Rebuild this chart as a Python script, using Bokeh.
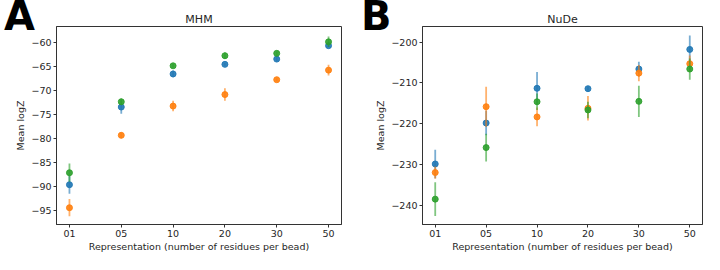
from bokeh.plotting import figure
from bokeh.layouts import row
from bokeh.models import Range1d, FixedTicker, ColumnDataSource, Div
from bokeh.embed import file_html
from bokeh.resources import INLINE

# ---------------- data ----------------
categories = ["01", "05", "10", "20", "30", "50"]
series_colors = ["#1f77b4", "#ff7f0e", "#2ca02c"]

# Panel A: MHM
mhm_blue = [-89.6, -73.4, -66.5, -64.5, -63.4, -60.6]
mhm_blue_err = [1.9, 1.4, 0.7, 0.3, 0.5, 0.3]
mhm_orange = [-94.4, -79.3, -73.2, -70.8, -67.7, -65.7]
mhm_orange_err = [1.8, 0.6, 1.1, 1.3, 0.3, 1.1]
mhm_green = [-87.1, -72.3, -64.8, -62.7, -62.2, -59.8]
mhm_green_err = [1.9, 0.7, 0.4, 0.7, 0.4, 1.1]

# Panel B: NuDe
nude_blue = [-229.8, -219.8, -211.3, -211.4, -206.6, -201.8]
nude_blue_err = [3.5, 3.0, 4.0, 0.5, 1.8, 3.4]
nude_orange = [-231.9, -215.8, -218.3, -216.2, -207.6, -205.3]
nude_orange_err = [1.5, 4.9, 2.3, 3.0, 2.0, 2.0]
nude_green = [-238.4, -225.8, -214.6, -216.6, -214.5, -206.6]
nude_green_err = [4.1, 3.4, 2.0, 2.0, 3.8, 2.6]

mhm_ticks = [-95, -90, -85, -80, -75, -70, -65, -60]
nude_ticks = [-240, -230, -220, -210, -200]

FONT = "DejaVu Sans"
TXT = "#262626"
H = 254


def make_panel(title, series, errs, yrange, yticks, width, bl, br, bt, bb):
    p = figure(width=width, height=H, output_backend="svg", toolbar_location=None,
               x_range=Range1d(-0.25, len(categories) - 0.75),
               y_range=Range1d(*yrange),
               min_border_left=bl, min_border_right=br,
               min_border_top=bt, min_border_bottom=bb)
    p.xgrid.visible = False
    p.ygrid.visible = False
    p.outline_line_color = "#333333"
    p.outline_line_width = 1
    p.background_fill_color = "white"
    p.border_fill_color = "white"

    p.title.text = title
    p.title.align = "center"
    p.title.text_font = FONT
    p.title.text_font_size = "11px"
    p.title.text_font_style = "normal"
    p.title.text_color = TXT
    p.title.standoff = 2

    xs = list(range(len(categories)))
    p.xaxis.ticker = FixedTicker(ticks=xs)
    p.xaxis.major_label_overrides = {i: c for i, c in enumerate(categories)}
    p.yaxis.ticker = FixedTicker(ticks=yticks)
    p.yaxis.major_label_overrides = {t: ("\u2212" + str(abs(t))) if t < 0 else str(t) for t in yticks}
    p.xaxis.axis_label = "Representation (number of residues per bead)"
    p.yaxis.axis_label = "Mean logZ"
    for ax in (p.xaxis[0], p.yaxis[0]):
        ax.axis_line_color = "#333333"
        ax.major_tick_line_color = "#333333"
        ax.major_tick_out = 3
        ax.major_tick_in = 0
        ax.minor_tick_line_color = None
        ax.major_label_text_font = FONT
        ax.major_label_text_font_size = "9.5px"
        ax.major_label_text_color = TXT
        ax.axis_label_text_font = FONT
        ax.axis_label_text_font_size = "9.5px"
        ax.axis_label_text_font_style = "normal"
        ax.axis_label_text_color = TXT
        ax.major_label_standoff = 2
        ax.axis_label_standoff = 2
        ax.major_label_text_line_height = 1.0
        ax.axis_label_text_line_height = 1.0
    p.xaxis.major_label_standoff = 2
    p.xaxis.axis_label_standoff = 1

    for vals, err, color in zip(series, errs, series_colors):
        src = ColumnDataSource(dict(
            x=xs, y=vals,
            lo=[v - e for v, e in zip(vals, err)],
            hi=[v + e for v, e in zip(vals, err)]))
        p.segment(x0="x", y0="lo", x1="x", y1="hi", source=src,
                  line_color=color, line_width=1.8, line_alpha=0.6)
        p.scatter(x="x", y="y", source=src, size=6, fill_color=color,
                  line_color=color, fill_alpha=0.9, line_alpha=0.9)
    return p


def make_letter(letter, width_of_plot, shift):
    html = ('<div style="font-family: \'DejaVu Sans\'; font-size: 40px; '
            'font-weight: bold; line-height: 47px; color: #000; '
            'margin: 0; padding: 0;">' + letter + '</div>')
    margin = (-7, width_of_plot - 44 - shift, 0, -width_of_plot + shift)
    return Div(text=html, width=44, height=50, margin=margin)


WA, WB = 357, 347
pA = make_panel("MHM", [mhm_blue, mhm_orange, mhm_green],
                [mhm_blue_err, mhm_orange_err, mhm_green_err],
                (-97.9, -56.6), mhm_ticks, WA, 56, 16, 24, 30)
pB = make_panel("NuDe", [nude_blue, nude_orange, nude_green],
                [nude_blue_err, nude_orange_err, nude_green_err],
                (-244.6, -196.2), nude_ticks, WB, 65, 2, 26, 30)

letA = make_letter("A", WA, 4)
letB = make_letter("B", WB, 4)

layout = row(pA, letA, pB, letB)
open("out.html", "w").write(file_html(layout, INLINE))
